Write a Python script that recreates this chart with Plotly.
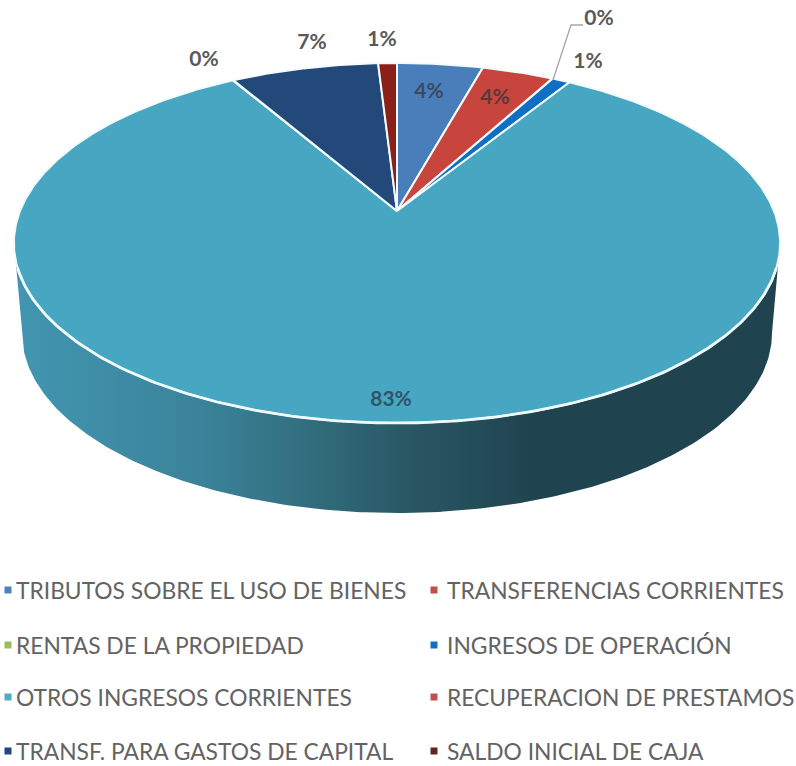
import numpy as np
import plotly.graph_objects as go

categories = ["TRIBUTOS SOBRE EL USO DE BIENES", "TRANSFERENCIAS CORRIENTES",
              "RENTAS DE LA PROPIEDAD", "INGRESOS DE OPERACIÓN",
              "OTROS INGRESOS CORRIENTES", "RECUPERACION DE PRESTAMOS",
              "TRANSF. PARA GASTOS DE CAPITAL", "SALDO INICIAL DE CAJA"]
values = [4.3, 3.6, 0.03, 0.9, 82.8, 0.03, 7.4, 0.94]
labels = ["4%", "4%", "0%", "1%", "83%", "0%", "7%", "1%"]
colors = ["#4a7ebb", "#c8453d", "#9bbb59", "#0f6fc6", "#47a7c3", "#c0504d", "#23497a", "#8a2018"]
legend_colors = ["#4f81bd", "#c0504d", "#9bbb59", "#0f6fc6", "#4bacc6", "#c0504d", "#1f497d", "#632523"]

# geometry of the perspective disc (pixel-like axes)
CX, CY = 397.0, 211.0
A, B, K = 377.0, 174.3, 0.178
LOW_CY, LOW_RX, LOW_RY = 333.0, 375.0, 180.0
TOP_EC, TOP_RX, TOP_RY = 243.0, 383.0, 180.0

def project(theta):
    d = 1 + K * np.cos(theta)
    return CX + A * np.sin(theta) / d, CY - B * np.cos(theta) / d

fig = go.Figure()

# side wall
t = np.linspace(np.pi, 0, 240)
lx = 397 + LOW_RX * np.cos(t)
ly = LOW_CY + LOW_RY * np.sin(t)
side_x = np.concatenate([[397 - TOP_RX], lx, [397 + TOP_RX], [397 + TOP_RX, 397 - TOP_RX]])
side_y = np.concatenate([[TOP_EC], ly, [TOP_EC], [TOP_EC - 1, TOP_EC - 1]])
fig.add_trace(go.Scatter(
    x=side_x, y=side_y, mode="lines", fill="toself", line=dict(width=0, color="#1f4450"),
    fillgradient=dict(type="horizontal",
                      colorscale=[[0, "#4296b1"], [0.25, "#3a8299"], [0.42, "#2f6877"],
                                  [0.52, "#295663"], [0.68, "#1f4450"], [1, "#1f4450"]]),
    hoverinfo="skip", showlegend=False))

# top slices, clockwise from 12 o'clock
edges = np.cumsum([0] + values) / sum(values) * 2 * np.pi
for i, cat in enumerate(categories):
    n = max(3, int(values[i] * 6))
    th = np.linspace(edges[i], edges[i + 1], n)
    px, py = project(th)
    fig.add_trace(go.Scatter(
        x=np.concatenate([[CX], px, [CX]]), y=np.concatenate([[CY], py, [CY]]),
        mode="lines", fill="toself", fillcolor=colors[i],
        line=dict(color="#f4fbfd", width=2), name=cat, hoverinfo="name", showlegend=False))

# brighter rim along the front edge of the disc
rim = np.linspace(np.pi * 0.60, np.pi * 1.40, 200)
rx, ry = project(rim)
fig.add_trace(go.Scatter(x=rx, y=ry, mode="lines", line=dict(color="#eefafd", width=2.8),
                         hoverinfo="skip", showlegend=False))

# data labels
lab_x = [429, 495, 599, 588, 391, 204, 312, 382]
lab_y = [93, 99, 20, 63, 401, 61, 44, 41]
lab_c = ["#3b4a5c", "#5a3a38", "#595959", "#595959", "#2f5668", "#595959", "#595959", "#595959"]
fig.add_trace(go.Scatter(x=lab_x, y=lab_y, mode="text", text=labels,
                         textposition="middle center",
                         textfont=dict(family="Lato", size=21, color=lab_c, weight=700),
                         hoverinfo="skip", showlegend=False))
# leader line for the small slice
fig.add_trace(go.Scatter(x=[553, 571, 583], y=[80, 25, 25], mode="lines",
                         line=dict(color="#a6a6a6", width=1.3),
                         hoverinfo="skip", showlegend=False))

# legend
leg_x = [8, 434] * 4
leg_y = [590, 590, 645, 645, 697, 697, 751, 751]
txt_x = [14, 445] * 4
fig.add_trace(go.Scatter(x=leg_x, y=leg_y, mode="markers",
                         marker=dict(symbol="square", size=7, color=legend_colors),
                         hoverinfo="skip", showlegend=False))
for x, y, cat in zip(txt_x, leg_y, categories):
    fig.add_annotation(x=x, y=y, text=cat, xanchor="left", yanchor="middle", showarrow=False,
                       xref="x", yref="y",
                       font=dict(family="Lato", size=22.8, color="#636363"))

fig.update_layout(
    width=796, height=766, margin=dict(l=0, r=0, t=0, b=0),
    paper_bgcolor="white", plot_bgcolor="white",
    xaxis=dict(range=[0, 796], visible=False, fixedrange=True),
    yaxis=dict(range=[766, 0], visible=False, fixedrange=True),
)
fig.write_html("out.html", config=dict(displayModeBar=False),
               post_script="document.body.style.margin='0';document.body.style.overflow='hidden';")
